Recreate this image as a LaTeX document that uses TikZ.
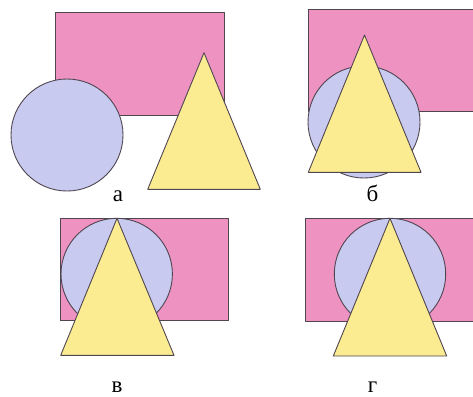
\documentclass[tikz,border=0pt]{standalone}
\usepackage{fontspec}
\setmainfont{Liberation Serif}
\definecolor{rosa}{RGB}{238,146,194}
\definecolor{lila}{RGB}{200,202,240}
\definecolor{gelb}{RGB}{251,236,145}
\definecolor{rand}{RGB}{80,70,80}
\begin{document}
\begin{tikzpicture}[x=1pt,y=-1pt,
  fig/.style={draw=rand,line width=0.9pt,line join=round},
  rectfig/.style={fig,fill=rosa},
  circfig/.style={fig,fill=lila},
  trifig/.style={fig,fill=gelb},
  lab/.style={font=\fontsize{23}{25}\selectfont,anchor=base,inner sep=0pt}]
\clip (0,0) rectangle (473,396);
\fill[white] (0,0) rectangle (473,396);
% panel a
\draw[rectfig] (55.7,12.7) rectangle (224.3,115);
\draw[circfig] (67,135) circle (56);
\draw[trifig] (204,52.7) -- (260.3,189.3) -- (147.7,189.3) -- cycle;
\node[lab] (la) at (118,201) {а};
% panel b
\draw[rectfig] (308,9.3) rectangle (480,111.7);
\draw[circfig] (364,122) circle (56);
\draw[trifig] (364.5,35) -- (421,172.3) -- (308.3,172.3) -- cycle;
\node[lab] (lb) at (372.5,201) {б};
% panel v
\draw[rectfig] (60,218.3) rectangle (228.7,320.7);
\draw[circfig] (116.7,274) circle (55.7);
\draw[trifig] (117,218.3) -- (174,355.3) -- (60.7,355.3) -- cycle;
\node[lab] (lv) at (117,392) {в};
% panel g
\draw[rectfig] (305,218.3) rectangle (480,321.3);
\draw[circfig] (390,274) circle (55.7);
\draw[trifig] (390,218.3) -- (446.7,356) -- (333.3,356) -- cycle;
\node[lab] (lg) at (372.5,392) {г};
\end{tikzpicture}
\end{document}
